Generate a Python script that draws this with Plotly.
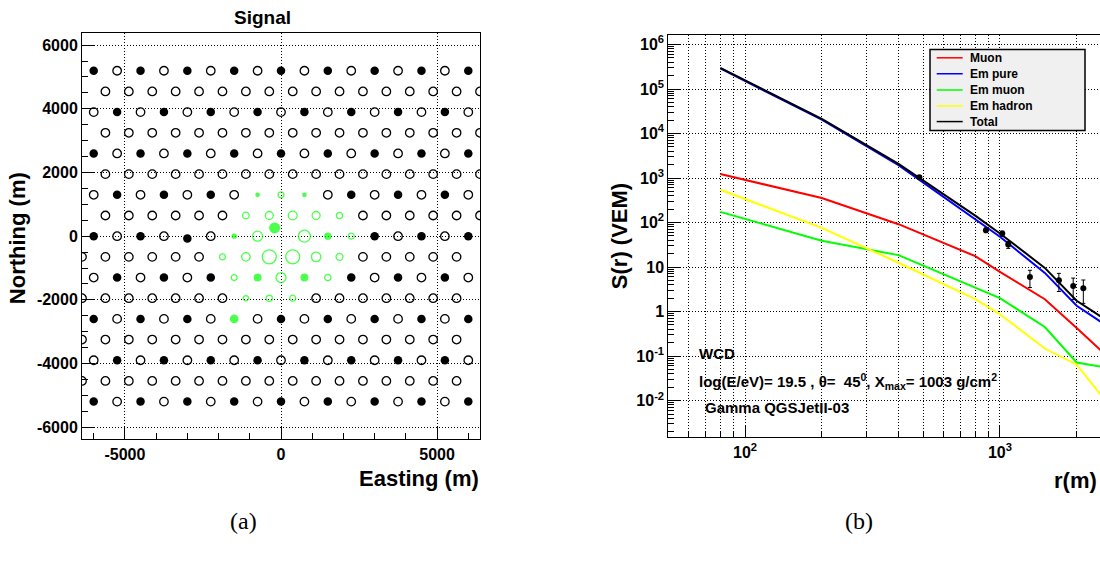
import numpy as np
import plotly.graph_objects as go

# ---------------- Panel (a): station map ----------------
SPACING = 750.0                      # infill grid spacing (m)
ROW_PITCH = SPACING * np.sqrt(3) / 2  # distance between rows (m)
ROW_INDEX = list(range(-8, 9))
STATIONS_PER_ROW = 17

# Triggered stations: easting (m), row index, signal (VEM)
trig_east = [-750, 0, 750,
             -1125, -375, 375, 1125, 1875,
             -1500, -750, 0, 750, 1500, 2250,
             -1875, -1125, -375, 375, 1125, 1875,
             -1500, -750, 0, 750, 1500,
             -1125, -375, 375,
             -1500]
trig_row = [2, 2, 2,
            1, 1, 1, 1, 1,
            0, 0, 0, 0, 0, 0,
            -1, -1, -1, -1, -1, -1,
            -2, -2, -2, -2, -2,
            -3, -3, -3,
            -4]
trig_signal = [1.6, 4.0, 1.6,
               6.0, 16.0, 30.0, 16.0, 5.0,
               2.5, 66.0, 130.0, 265.0, 10.0, 4.0,
               4.0, 23.0, 1070.0, 1070.0, 46.0, 8.0,
               4.0, 16.0, 66.0, 16.0, 5.0,
               2.5, 5.0, 4.0,
               26.0]

# Surveyed positions that differ from the nominal grid: (easting, row) -> (x, y)
moved_nominal = [(0, 0), (-3000, 0)]
moved_actual = [(-205.0, 260.0), (-3000.0, -72.0)]

map_x_ticks = [-5000, 0, 5000]
map_x_labels = ["-5000", "0", "5000"]
map_y_ticks = [-6000, -4000, -2000, 0, 2000, 4000, 6000]
map_y_labels = ["-6000", "-4000", "-2000", "0", "2000", "4000", "6000"]

# ---------------- Panel (b): lateral distribution ----------------
r_nodes = [80, 200, 400, 800, 1000, 1500, 2000, 2500]
s_muon = [1230, 357, 92, 17.6, 7.8, 1.9, 0.43, 0.13]
s_em_pure = [2.9e5, 2.05e4, 1950, 118, 48, 7.4, 1.35, 0.58]
s_em_muon = [174, 39, 18.6, 3.4, 2.0, 0.45, 0.072, 0.058]
s_em_hadron = [547, 76, 12.5, 1.9, 0.87, 0.148, 0.064, 0.013]
s_total = [3.0e5, 2.13e4, 2090, 143, 57, 9.6, 1.75, 0.76]

r_obs = [483, 881, 1021, 1078, 1311, 1703, 1938, 2124]
s_obs = [1037, 67.6, 56.7, 32, 5.97, 5.03, 3.76, 3.33]
s_obs_err = [32, 8.2, 7.5, 5.7, 2.5, 2.2, 1.9, 1.8]

component_names = ["Muon", "Em pure", "Em muon", "Em hadron", "Total"]
component_colors = ["#ff0000", "#0000ff", "#00ff00", "#ffff00", "#000000"]

ldf_y_ticks = [1e-2, 1e-1, 1, 10, 1e2, 1e3, 1e4, 1e5, 1e6]
ldf_y_labels = ["10<sup>-2</sup>", "10<sup>-1</sup>", "1", "10", "10<sup>2</sup>",
                "10<sup>3</sup>", "10<sup>4</sup>", "10<sup>5</sup>", "10<sup>6</sup>"]
ldf_x_ticks = [100, 1000]
ldf_x_labels = ["10<sup>2</sup>", "10<sup>3</sup>"]

# ---------------- page geometry ----------------
W, H = 1100, 569
FONT = "Liberation Sans, Arial, Helvetica, sans-serif"


def fx(p):
    return p / W


def fy(p):
    return 1 - p / H


# build the station lattice
stations = []
for k in ROW_INDEX:
    if k % 2 == 0:
        x0 = -6000.0
    elif k > 0:
        x0 = -5625.0
    else:
        x0 = -6375.0
    for j in range(STATIONS_PER_ROW):
        x = x0 + j * SPACING
        big_grid = (k % 2 == 0) and ((j + k // 2) % 2 == 0)
        stations.append((x, k, big_grid))

trig_lookup = {(float(e), r): s for e, r, s in zip(trig_east, trig_row, trig_signal)}
moved_lookup = {(float(e), r): p for (e, r), p in zip(moved_nominal, moved_actual)}

groups = {("k", False): ([], [], []), ("k", True): ([], [], []),
          ("g", False): ([], [], []), ("g", True): ([], [], [])}
for x, k, filled in stations:
    px, py = moved_lookup.get((x, k), (x, k * ROW_PITCH))
    sig = trig_lookup.get((x, k))
    key = ("g" if sig is not None else "k", filled)
    groups[key][0].append(px)
    groups[key][1].append(py)
    groups[key][2].append(sig)


def signal_to_diameter(s):
    return 4.0 + 3.3 * np.log10(np.asarray(s, dtype=float))


fig = go.Figure()

fig.add_trace(go.Scatter(x=groups[("k", False)][0], y=groups[("k", False)][1], mode="markers",
                         marker=dict(symbol="circle-open", size=8.5, color="black",
                                     line=dict(width=1.3, color="black")),
                         xaxis="x", yaxis="y", showlegend=False, hoverinfo="skip"))
fig.add_trace(go.Scatter(x=groups[("k", True)][0], y=groups[("k", True)][1], mode="markers",
                         marker=dict(symbol="circle", size=8.5, color="black", line=dict(width=0)),
                         xaxis="x", yaxis="y", showlegend=False, hoverinfo="skip"))
fig.add_trace(go.Scatter(x=groups[("g", False)][0], y=groups[("g", False)][1], mode="markers",
                         marker=dict(symbol="circle-open",
                                     size=signal_to_diameter(groups[("g", False)][2]),
                                     color="#00ff00", line=dict(width=1.3, color="#00ff00")),
                         xaxis="x", yaxis="y", showlegend=False,
                         customdata=groups[("g", False)][2]))
fig.add_trace(go.Scatter(x=groups[("g", True)][0], y=groups[("g", True)][1], mode="markers",
                         marker=dict(symbol="circle",
                                     size=signal_to_diameter(groups[("g", True)][2]),
                                     color="#00ff00", line=dict(width=0)),
                         xaxis="x", yaxis="y", showlegend=False,
                         customdata=groups[("g", True)][2]))

# lateral distribution components
for name, vals, col in zip(component_names,
                           [s_muon, s_em_pure, s_em_muon, s_em_hadron, s_total],
                           component_colors):
    fig.add_trace(go.Scatter(x=r_nodes, y=vals, mode="lines", name=name,
                             line=dict(color=col, width=2),
                             xaxis="x2", yaxis="y2", showlegend=False))

fig.add_trace(go.Scatter(x=r_obs, y=s_obs, mode="markers", name="data",
                         marker=dict(symbol="circle", size=6, color="black"),
                         error_y=dict(type="data", array=s_obs_err, visible=True,
                                      color="black", thickness=1, width=2),
                         xaxis="x2", yaxis="y2", showlegend=False))

tickfont = dict(family=FONT, size=16, color="black", weight="bold")
grid_dash = "1px,2px"

map_minor_x = [v for v in range(-6000, 6001, 1000)]
map_minor_y = [v for v in range(-6000, 6001, 500)]

ldf_minor_x = [60, 70, 80, 90, 200, 300, 400, 500, 600, 700, 800, 900, 2000]
ldf_minor_y = [m * 10.0 ** e for e in range(-3, 7) for m in range(2, 10)]

fig.update_layout(
    width=W, height=H,
    margin=dict(l=0, r=0, t=0, b=0),
    paper_bgcolor="white", plot_bgcolor="white",
    showlegend=False,
    xaxis=dict(domain=[fx(82), fx(480)], range=[-6375, 6375], anchor="y",
               tickmode="array", tickvals=map_x_ticks, ticktext=map_x_labels,
               ticks="inside", ticklen=12, tickwidth=1, tickcolor="black",
               showgrid=True, gridcolor="black", gridwidth=1, griddash=grid_dash,
               minor=dict(tickmode="array", tickvals=map_minor_x, ticks="inside",
                          ticklen=6, tickwidth=1, tickcolor="black", showgrid=False),
               showline=True, linecolor="black", linewidth=1, mirror=True,
               zeroline=False, tickfont=tickfont),
    yaxis=dict(domain=[fy(439), fy(31)], range=[-6385, 6385], anchor="x",
               tickmode="array", tickvals=map_y_ticks, ticktext=map_y_labels,
               ticks="inside", ticklen=12, tickwidth=1, tickcolor="black",
               showgrid=True, gridcolor="black", gridwidth=1, griddash=grid_dash,
               minor=dict(tickmode="array", tickvals=map_minor_y, ticks="inside",
                          ticklen=6, tickwidth=1, tickcolor="black", showgrid=False),
               showline=True, linecolor="black", linewidth=1, mirror=True,
               zeroline=False, tickfont=tickfont),
    xaxis2=dict(type="log", domain=[fx(668.3), 1.0], range=[np.log10(50), 3.3925],
                anchor="y2", tickmode="array", tickvals=ldf_x_ticks, ticktext=ldf_x_labels,
                ticks="inside", ticklen=12, tickwidth=1, tickcolor="black",
                showgrid=True, gridcolor="black", gridwidth=1, griddash=grid_dash,
                minor=dict(tickmode="array", tickvals=ldf_minor_x, ticks="inside",
                           ticklen=6, tickwidth=1, tickcolor="black",
                           showgrid=True, gridcolor="black", gridwidth=1, griddash=grid_dash),
                showline=True, linecolor="black", linewidth=1, mirror=True,
                zeroline=False, tickfont=tickfont),
    yaxis2=dict(type="log", domain=[fy(437), fy(33.5)], range=[-2.828, 6.206],
                anchor="x2", tickmode="array", tickvals=ldf_y_ticks, ticktext=ldf_y_labels,
                ticks="inside", ticklen=12, tickwidth=1, tickcolor="black",
                showgrid=True, gridcolor="black", gridwidth=1, griddash=grid_dash,
                minor=dict(tickmode="array", tickvals=ldf_minor_y, ticks="inside",
                           ticklen=6, tickwidth=1, tickcolor="black", showgrid=False),
                showline=True, linecolor="black", linewidth=1, mirror=False,
                zeroline=False, tickfont=tickfont),
)

title_font = dict(family=FONT, size=22, color="black", weight="bold")
text_font = dict(family=FONT, size=15, color="black", weight="bold")
caption_font = dict(family="Liberation Serif, DejaVu Serif, serif", size=24, color="black")

annotations = [
    dict(text="Signal", x=fx(262), y=fy(16), xanchor="center", yanchor="middle",
         font=dict(family=FONT, size=19, color="black", weight="bold")),
    dict(text="Northing (m)", x=fx(17), y=fy(237), xanchor="center", yanchor="middle",
         textangle=-90, font=title_font),
    dict(text="Easting (m)", x=fx(481), y=fy(478), xanchor="right", yanchor="middle",
         font=title_font),
    dict(text="S(r) (VEM)", x=fx(619), y=fy(235), xanchor="center", yanchor="middle",
         textangle=-90, font=title_font),
    dict(text="r(m)", x=fx(1099), y=fy(480), xanchor="right", yanchor="middle",
         font=title_font),
    dict(text="WCD", x=fx(697), y=fy(352.5), xanchor="left", yanchor="middle", font=text_font),
    dict(text="log(E/eV)= 19.5 , \u03b8=\u00a0\u00a045<sup>0</sup>, X<sub>max</sub>= 1003 g/cm<sup>2</sup>",
         x=fx(697), y=fy(381), xanchor="left", yanchor="middle", font=text_font),
    dict(text="Gamma QGSJetII-03", x=fx(703), y=fy(406.5), xanchor="left", yanchor="middle",
         font=text_font),
    dict(text="(a)", x=fx(243), y=fy(521), xanchor="center", yanchor="middle", font=caption_font),
    dict(text="(b)", x=fx(859), y=fy(521), xanchor="center", yanchor="middle", font=caption_font),
]

# legend box for panel (b)
shapes = [dict(type="rect", xref="paper", yref="paper",
               x0=fx(930), x1=fx(1085), y0=fy(129), y1=fy(47.7),
               fillcolor="#f0f0f0", line=dict(color="black", width=1.5), layer="above")]
legend_rows = [56, 72, 88.3, 104.3, 120]
for name, col, yrow in zip(component_names, component_colors, legend_rows):
    shapes.append(dict(type="line", xref="paper", yref="paper",
                       x0=fx(936.7), x1=fx(962.7), y0=fy(yrow), y1=fy(yrow),
                       line=dict(color=col, width=1.5), layer="above"))
    annotations.append(dict(text=name, x=fx(968.3), y=fy(yrow), xanchor="left",
                            yanchor="middle",
                            font=dict(family=FONT, size=12, color="black", weight="bold")))

for a in annotations:
    a.update(xref="paper", yref="paper", showarrow=False)

fig.update_layout(annotations=annotations, shapes=shapes)

fig.write_html("out.html")
